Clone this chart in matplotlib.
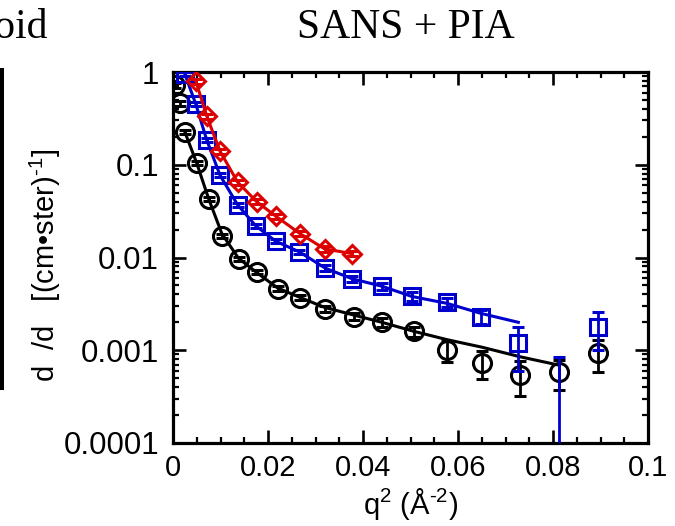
import matplotlib
matplotlib.use("Agg")
import matplotlib.pyplot as plt
from matplotlib.ticker import FixedLocator, FixedFormatter, LogLocator, NullFormatter
from matplotlib.patches import Rectangle

# ---- data ----
black_x = [0.0004, 0.0015, 0.0025, 0.0050, 0.0075, 0.0103, 0.0138, 0.0176, 0.0220,
           0.0268, 0.0319, 0.0380, 0.0440, 0.0507, 0.0577, 0.0650, 0.0731, 0.0813, 0.0895]
black_y = [0.72, 0.46, 0.225, 0.104, 0.043, 0.017, 0.0096, 0.0070, 0.0046,
           0.0037, 0.0028, 0.0023, 0.0020, 0.0016, 0.0010, 0.00073, 0.00054, 0.00058, 0.00093]
black_err = [0.04, 0.025, 0.012, 0.005, 0.002, 0.0008, 0.0005, 0.0004, 0.0003,
             0.0002, 0.0002, 0.0002, 0.0002, 0.0002, 0.00026, 0.00024, 0.00022, 0.00021, 0.00035]
black_fit_x = [0.0025, 0.0050, 0.0075, 0.0103, 0.0138, 0.0176, 0.0220, 0.0268, 0.0319,
               0.0380, 0.0440, 0.0507, 0.0577, 0.0650, 0.0731, 0.0813]
black_fit_y = [0.225, 0.104, 0.043, 0.018, 0.0098, 0.0069, 0.0047, 0.0037, 0.0029,
               0.0024, 0.0020, 0.0016, 0.0013, 0.00108, 0.00085, 0.00069]

blue_x = [0.0025, 0.0048, 0.0071, 0.0099, 0.0136, 0.0174, 0.0216, 0.0266, 0.0320,
          0.0377, 0.0440, 0.0503, 0.0577, 0.0648, 0.0727, 0.0813, 0.0895]
blue_y = [0.95, 0.45, 0.185, 0.077, 0.037, 0.022, 0.015, 0.0115, 0.0077,
          0.0059, 0.0049, 0.0038, 0.0033, 0.0023, 0.0012, 0.00005, 0.0018]
blue_err = [0.05, 0.025, 0.01, 0.004, 0.002, 0.0012, 0.0008, 0.0006, 0.0005,
            0.0004, 0.0004, 0.0004, 0.0004, 0.0004, 0.0006, 0.0008, 0.0008]
blue_fit_x = [0.0025, 0.0048, 0.0071, 0.0099, 0.0136, 0.0174, 0.0216, 0.0266, 0.0320,
              0.0377, 0.0440, 0.0503, 0.0577, 0.0648, 0.0727]
blue_fit_y = [0.95, 0.45, 0.185, 0.077, 0.037, 0.022, 0.015, 0.0115, 0.0077,
              0.0059, 0.0049, 0.0038, 0.0032, 0.0025, 0.0020]

red_x = [0.0048, 0.0071, 0.0099, 0.0136, 0.0176, 0.0216, 0.0268, 0.0319, 0.0377]
red_y = [0.80, 0.335, 0.14, 0.065, 0.040, 0.028, 0.018, 0.0124, 0.011]
red_err = [0.05, 0.02, 0.008, 0.004, 0.0025, 0.0017, 0.0011, 0.0008, 0.0007]

x_ticks = [0, 0.02, 0.04, 0.06, 0.08, 0.1]
x_labels = ["0", "0.02", "0.04", "0.06", "0.08", "0.1"]
y_ticks = [1e-4, 1e-3, 1e-2, 1e-1, 1]
y_labels = ["0.0001", "0.001", "0.01", "0.1", "1"]

BLACK = "#000000"
BLUE = "#0000cc"
RED = "#dd0000"

plt.rcParams['font.family'] = ['Liberation Sans', 'DejaVu Sans']
plt.rcParams['mathtext.fontset'] = 'custom'
plt.rcParams['mathtext.rm'] = 'Liberation Sans'
plt.rcParams['mathtext.it'] = 'Liberation Sans'

fig = plt.figure(figsize=(6.75, 5.26), dpi=100)
ax = fig.add_axes([173/675, 1-443/526, (648-173)/675, (443-72)/526])

lw = 2.2
mew = 2.2
elw = 2.0

# black
ax.plot(black_fit_x, black_fit_y, color=BLACK, lw=lw, zorder=2)
ax.errorbar(black_x, black_y, yerr=black_err, fmt='o', ms=13, mfc='none', mec=BLACK,
            mew=mew, ecolor=BLACK, elinewidth=elw, capsize=4, capthick=elw, zorder=3)
# blue
ax.plot(blue_fit_x, blue_fit_y, color=BLUE, lw=lw, zorder=4)
ax.errorbar(blue_x, blue_y, yerr=blue_err, fmt='s', ms=11, mfc='none', mec=BLUE,
            mew=mew, ecolor=BLUE, elinewidth=elw, capsize=4, capthick=elw, zorder=5)
# red
ax.plot(red_x, red_y, color=RED, lw=lw, zorder=6)
ax.errorbar(red_x, red_y, yerr=red_err, fmt='D', ms=9.5, mfc='none', mec=RED,
            mew=mew, ecolor=RED, elinewidth=elw, capsize=4, capthick=elw, zorder=7)

ax.set_yscale('log')
ax.set_xlim(0, 0.1)
ax.set_ylim(1e-4, 1)

ax.xaxis.set_major_locator(FixedLocator(x_ticks))
ax.xaxis.set_major_formatter(FixedFormatter(x_labels))
ax.xaxis.set_minor_locator(FixedLocator([i * 0.005 for i in range(21)]))
ax.yaxis.set_major_locator(FixedLocator(y_ticks))
ax.yaxis.set_major_formatter(FixedFormatter(y_labels))
ax.yaxis.set_minor_locator(LogLocator(base=10, subs=range(2, 10), numticks=20))
ax.yaxis.set_minor_formatter(NullFormatter())

ax.tick_params(which='both', direction='in', top=True, right=True, pad=8)
ax.tick_params(axis='x', labelsize=21)
ax.tick_params(axis='y', labelsize=22.5, pad=10)
ax.tick_params(which='major', length=9.5, width=1.9)
ax.tick_params(which='minor', length=4.5, width=1.6)
for s in ax.spines.values():
    s.set_linewidth(2.3)

ax.set_xlabel(r"q$^{\mathrm{2}}$ (Å$^{\text{-2}}$)", fontsize=21, labelpad=3)
fig.text(45/675, 1-265/526, r"d  /d   [(cm•ster)$^{\text{-1}}$]", rotation=90,
         ha='center', va='center', fontsize=21)

fig.text(406/675, 1-38/526, "SANS + PIA", family=['Liberation Serif'], fontsize=30,
         ha='center', va='baseline')
fig.text(48/675, 1-38/526, "Ellipsoid", family=['Liberation Serif'], fontsize=30,
         ha='right', va='baseline')
fig.patches.append(Rectangle((0, 1-390/526), 4/675, (390-68)/526, transform=fig.transFigure,
                             facecolor='black', edgecolor='none'))

fig.savefig("out.png", dpi=100)
